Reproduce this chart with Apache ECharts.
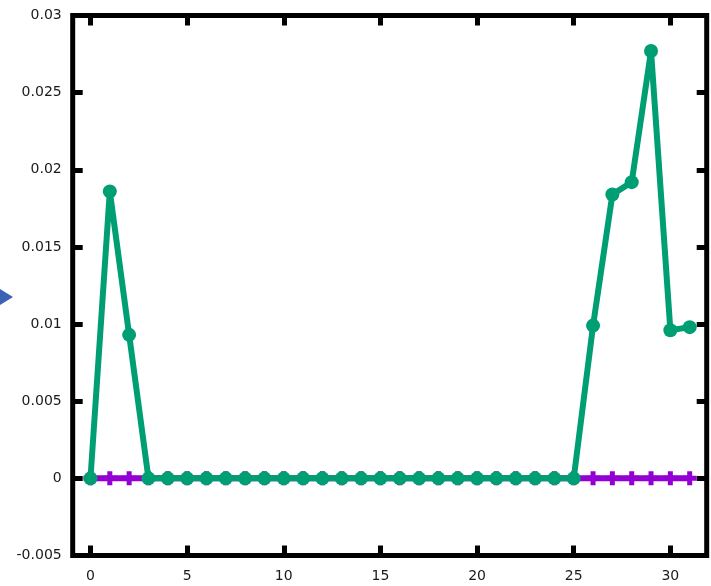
<!DOCTYPE html>
<html>
<head>
<meta charset="utf-8">
<script src="https://cdn.jsdelivr.net/npm/echarts@6/dist/echarts.min.js"></script>
<style>
  html, body { margin: 0; padding: 0; background: #fff; }
  #chart { width: 711px; height: 586px; }
</style>
</head>
<body>
<div id="chart"></div>
<script>
// Sample index along the x axis
var xValues = [0,1,2,3,4,5,6,7,8,9,10,11,12,13,14,15,16,17,18,19,20,21,22,23,24,25,26,27,28,29,30,31];

// Green series values
var greenValues = [0, 0.0186, 0.0093, 0, 0, 0, 0, 0, 0, 0, 0, 0, 0, 0, 0, 0,
                   0, 0, 0, 0, 0, 0, 0, 0, 0, 0, 0.0099, 0.0184, 0.0192, 0.0277, 0.0096, 0.0098];

// Purple series values
var purpleValues = [0, 0, 0, 0, 0, 0, 0, 0, 0, 0, 0, 0, 0, 0, 0, 0,
                    0, 0, 0, 0, 0, 0, 0, 0, 0, 0, 0, 0, 0, 0, 0, 0];

// Tick positions on the x axis
var xTicks = [0, 5, 10, 15, 20, 25, 30];

function pairs(xs, ys) {
  return xs.map(function (x, i) { return [x, ys[i]]; });
}

var chart = echarts.init(document.getElementById('chart'), null, { renderer: 'canvas' });

var labelFont = { fontFamily: '"DejaVu Sans", sans-serif', fontSize: 14, color: '#1a1a1a' };
var tickStyle = { show: true, inside: true, length: 10, lineStyle: { color: '#000', width: 5 } };
var hiddenLine = { show: false, onZero: false };

var xRange = { min: -0.92, max: 31.88 };

// Plus-shaped marker
var plusPath = 'path://M4.5,0H9.5V4.5H14V9.5H9.5V14H4.5V9.5H0V4.5H4.5Z';

chart.setOption({
  animation: false,
  backgroundColor: '#fff',
  grid: {
    left: 72.7, right: 4.3, top: 15.5, bottom: 30.5,
    show: true, borderColor: '#000', borderWidth: 5, backgroundColor: 'transparent',
    containLabel: false, outerBoundsMode: 'none'
  },
  xAxis: [
    {
      type: 'value', position: 'bottom', min: xRange.min, max: xRange.max,
      axisLine: hiddenLine, splitLine: { show: false },
      axisTick: Object.assign({ customValues: xTicks }, tickStyle),
      axisLabel: Object.assign({ customValues: xTicks, margin: 14 }, labelFont)
    },
    {
      type: 'value', position: 'top', min: xRange.min, max: xRange.max,
      axisLine: hiddenLine, splitLine: { show: false },
      axisTick: Object.assign({ customValues: xTicks }, tickStyle),
      axisLabel: { show: false }
    }
  ],
  yAxis: [
    {
      type: 'value', position: 'left', min: -0.005, max: 0.03, interval: 0.005,
      axisLine: hiddenLine, splitLine: { show: false },
      axisTick: tickStyle,
      axisLabel: Object.assign({ margin: 11 }, labelFont)
    },
    {
      type: 'value', position: 'right', min: -0.005, max: 0.03, interval: 0.005,
      axisLine: hiddenLine, splitLine: { show: false },
      axisTick: tickStyle,
      axisLabel: { show: false }
    }
  ],
  series: [
    {
      type: 'line',
      data: pairs(xValues, purpleValues),
      xAxisIndex: 0, yAxisIndex: 0,
      color: '#9400d3',
      lineStyle: { width: 6, color: '#9400d3' },
      symbol: plusPath, symbolSize: 14,
      itemStyle: { color: '#9400d3' },
      z: 2
    },
    {
      type: 'line',
      data: pairs(xValues, greenValues),
      xAxisIndex: 0, yAxisIndex: 0,
      color: '#009e73',
      lineStyle: { width: 6, color: '#009e73' },
      symbol: 'circle', symbolSize: 14,
      itemStyle: { color: '#009e73' },
      z: 3
    }
  ],
  graphic: [
    {
      type: 'polygon',
      shape: { points: [[0, 289], [13, 297], [0, 305]] },
      style: { fill: '#3b63b3' },
      z: 10
    }
  ]
});
</script>
</body>
</html>
